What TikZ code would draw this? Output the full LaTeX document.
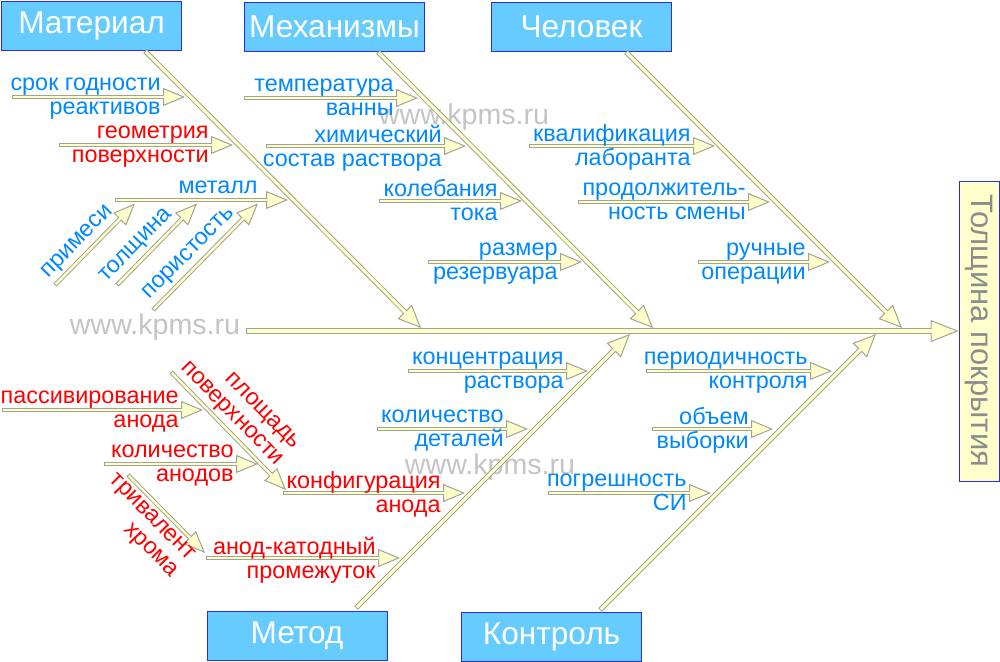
\documentclass[tikz,border=0pt]{standalone}
\usepackage{fontspec}
\setmainfont{Liberation Sans}
\usetikzlibrary{arrows.meta}
\definecolor{boxfill}{HTML}{66CCFF}
\definecolor{boxline}{HTML}{2B2BF0}
\definecolor{bonefill}{HTML}{FFFFCC}
\definecolor{boneline}{HTML}{A3A393}
\definecolor{txtblue}{HTML}{0088FF}
\definecolor{txtred}{HTML}{FF0000}
\definecolor{wmgray}{HTML}{C4C4C4}
\definecolor{effgray}{HTML}{8C8C8C}
\tikzstyle{group}=[draw=boxline, fill=boxfill, text=white, minimum width=90pt, minimum height=24.5pt, inner sep=0pt, font=\fontsize{15.8}{16}\selectfont]
\tikzstyle{effect}=[draw=boxline, fill=bonefill, text=effgray, rotate=-90, minimum width=150pt, minimum height=20pt, inner sep=0pt, font=\fontsize{15.5}{16}\selectfont]
\tikzstyle{spine}=[draw=boneline, line width=3pt, -{Triangle[length=14pt, width=11pt, line width=0.5pt, color=boneline, fill=bonefill]}, postaction={draw=bonefill, line width=1.9pt, -, shorten >=8pt, shorten <=0.5pt}]
\tikzstyle{bone}=[draw=boneline, line width=2.5pt, -{Triangle[length=11.5pt, width=10pt, line width=0.5pt, color=boneline, fill=bonefill]}, postaction={draw=bonefill, line width=1.5pt, -, shorten >=6pt, shorten <=0.5pt}]
\tikzstyle{cause}=[draw=boneline, line width=2.2pt, -{Triangle[length=11pt, width=9pt, line width=0.5pt, color=boneline, fill=bonefill]}, postaction={draw=bonefill, line width=1.2pt, -, shorten >=5.5pt, shorten <=0.5pt}]
\tikzstyle{lbl}=[inner sep=0pt, anchor=east, align=right, font=\fontsize{11.7}{12}\selectfont, execute at begin node=\strut, execute at end node=\strut]
\tikzstyle{lblue}=[lbl, text=txtblue]
\tikzstyle{lred}=[lbl, text=txtred]
\tikzstyle{cblue}=[lblue, xshift=-12pt, yshift=-1.5pt]
\tikzstyle{cred}=[lred, xshift=-12pt, yshift=-1.5pt]
\tikzstyle{watermark}=[text=wmgray, inner sep=0pt, font=\fontsize{14.3}{15}\selectfont]
\begin{document}
\begin{tikzpicture}[x=0.5pt, y=-0.5pt]
\useasboundingbox (0,0) rectangle (1000,662);

\node (wmtop) [watermark] at (464,117) {www.kpms.ru};
\node (wmleft) [watermark] at (155,327) {www.kpms.ru};
\node (wmbottom) [watermark] at (490,467) {www.kpms.ru};

\node (material) [group] at (91.5,26) {Материал};
\node (mechanisms) [group] at (334.5,26.5) {Механизмы};
\node (person) [group] at (581.5,26.5) {Человек};
\node (method) [group] at (297,636) {Метод};
\node (control) [group] at (551.5,636.5) {Контроль};
\node (thickness) [effect] at (979,331) {Толщина покрытия};

% spine and bones
\coordinate (tail) at (246,331);
\draw [spine] (tail) -- (tail -| thickness.south);
\coordinate (mat0) at (145,51);  \coordinate (mat1) at (421,328);
\coordinate (mech0) at (378,52); \coordinate (mech1) at (653,328);
\coordinate (pers0) at (626,52); \coordinate (pers1) at (902,328);
\coordinate (meth0) at (356,608); \coordinate (meth1) at (630,334);
\coordinate (ctrl0) at (600,610); \coordinate (ctrl1) at (876,334);
\draw [bone] (mat0) -- (mat1);
\draw [bone] (mech0) -- (mech1);
\draw [bone] (pers0) -- (pers1);
\draw [bone] (meth0) -- (meth1);
\draw [bone] (ctrl0) -- (ctrl1);

% Материал
\coordinate (shelf0) at (12,97);  \coordinate (shelf1) at (185,97);
\coordinate (geom0) at (59,145);  \coordinate (geom1) at (233,145);
\coordinate (metal0) at (115,200); \coordinate (metal1) at (288,200);
\coordinate (imp0) at (55,285);   \coordinate (imp1) at (135,203.5);
\coordinate (thk0) at (117,285);  \coordinate (thk1) at (197,203.5);
\coordinate (por0) at (153,310);  \coordinate (por1) at (258,203.5);
\draw [cause] (shelf0) -- (shelf1);
\draw [cause] (geom0) -- (geom1);
\draw [cause] (metal0) -- (metal1);
\draw [cause] (imp0) -- (imp1) node (impurity) [lblue, pos=0.83, sloped, anchor=south east] {примеси};
\draw [cause] (thk0) -- (thk1) node (layer) [lblue, pos=0.8, sloped, anchor=south east] {толщина};
\draw [cause] (por0) -- (por1) node (porosity) [lblue, pos=0.86, sloped, anchor=south east] {пористость};
\node (shelf) [cblue] at (shelf1) {срок годности\\реактивов};
\node (geom) [cred] at (geom1) {геометрия\\поверхности};
\node (metal) [lblue, anchor=base east, xshift=-15pt, yshift=3pt] at (metal1) {металл};

% Механизмы
\coordinate (temp0) at (244,98);  \coordinate (temp1) at (418,98);
\coordinate (chem0) at (266,146); \coordinate (chem1) at (466,146);
\coordinate (curr0) at (379,201); \coordinate (curr1) at (522,201);
\coordinate (tank0) at (428,262); \coordinate (tank1) at (582,262);
\draw [cause] (temp0) -- (temp1);
\draw [cause] (chem0) -- (chem1);
\draw [cause] (curr0) -- (curr1);
\draw [cause] (tank0) -- (tank1);
\node (temp) [cblue] at (temp1) {температура\\ванны};
\node (chem) [cblue] at (chem1) {химический\\состав раствора};
\node (curr) [cblue] at (curr1) {колебания\\тока};
\node (tank) [cblue] at (tank1) {размер\\резервуара};

% Человек
\coordinate (qual0) at (529,146);   \coordinate (qual1) at (715,146);
\coordinate (shift0) at (578,202);  \coordinate (shift1) at (770,202);
\coordinate (manual0) at (698,262); \coordinate (manual1) at (830,262);
\draw [cause] (qual0) -- (qual1);
\draw [cause] (shift0) -- (shift1);
\draw [cause] (manual0) -- (manual1);
\node (qual) [cblue] at (qual1) {квалификация\\лаборанта};
\node (shift) [cblue] at (shift1) {продолжитель-\\ность смены};
\node (manual) [cblue] at (manual1) {ручные\\операции};

% Метод
\coordinate (conc0) at (408,371);  \coordinate (conc1) at (588,371);
\coordinate (parts0) at (377,429); \coordinate (parts1) at (528,429);
\coordinate (conf0) at (283,493);  \coordinate (conf1) at (465,493);
\coordinate (gap0) at (206,558);   \coordinate (gap1) at (400,558);
\coordinate (pass0) at (2,410);    \coordinate (pass1) at (203,410);
\coordinate (anod0) at (104,464);  \coordinate (anod1) at (258,464);
\coordinate (area0) at (171,372);  \coordinate (area1) at (286,490);
\coordinate (chrom0) at (128,475); \coordinate (chrom1) at (205,553);
\draw [cause] (conc0) -- (conc1);
\draw [cause] (parts0) -- (parts1);
\draw [cause] (conf0) -- (conf1);
\draw [cause] (gap0) -- (gap1);
\draw [cause] (pass0) -- (pass1);
\draw [cause] (anod0) -- (anod1);
\draw [cause] (area0) -- (area1) node (area) [lred, pos=0.867, sloped, anchor=south east] {площадь\\поверхности};
\draw [cause] (chrom0) -- (chrom1) node (chrom) [lred, pos=0.96, sloped, anchor=north east, inner ysep=1.5pt] {тривалент\\хрома};
\node (conc) [cblue] at (conc1) {концентрация\\раствора};
\node (parts) [cblue] at (parts1) {количество\\деталей};
\node (conf) [cred] at (conf1) {конфигурация\\анода};
\node (gap) [cred] at (gap1) {анод-катодный\\промежуток};
\node (pass) [cred] at (pass1) {пассивирование\\анода};
\node (anod) [cred] at (anod1) {количество\\анодов};

% Контроль
\coordinate (period0) at (646,371); \coordinate (period1) at (832,371);
\coordinate (sample0) at (652,429); \coordinate (sample1) at (773,429);
\coordinate (error0) at (548,493);  \coordinate (error1) at (711,493);
\draw [cause] (period0) -- (period1);
\draw [cause] (sample0) -- (sample1);
\draw [cause] (error0) -- (error1);
\node (period) [cblue] at (period1) {периодичность\\контроля};
\node (sample) [cblue] at (sample1) {объем\\выборки};
\node (error) [cblue] at (error1) {погрешность\\СИ};
\end{tikzpicture}
\end{document}
